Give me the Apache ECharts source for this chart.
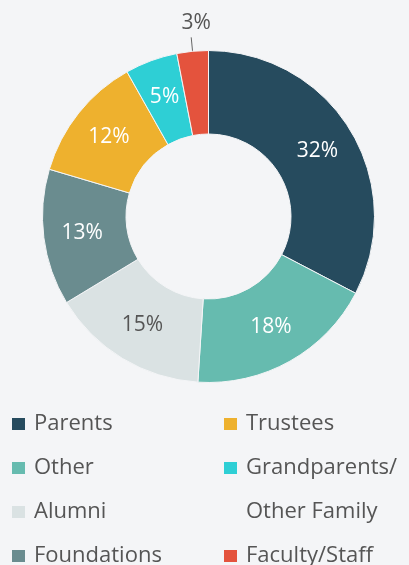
<!DOCTYPE html>
<html>
<head>
<meta charset="utf-8">
<script src="https://cdn.jsdelivr.net/npm/echarts@6/dist/echarts.min.js"></script>
<style>
  html, body { margin: 0; padding: 0; background: #f4f5f7; }
  #chart { width: 409px; height: 565px; }
</style>
</head>
<body>
<div id="chart"></div>
<script>
// Giving sources, share of total (%)
const categories = ['Parents', 'Other', 'Alumni', 'Foundations', 'Trustees', 'Grandparents/\nOther Family', 'Faculty/Staff'];
const shares = [32, 18, 15, 13, 12, 5, 3];
const colors = ['#264b5e', '#66bbaf', '#dae2e3', '#6a8c8f', '#eeb12e', '#2ecfd5', '#e4533d'];
const labelColors = ['#ffffff', '#ffffff', '#555555', '#ffffff', '#ffffff', '#ffffff', '#555555'];
const leftColumn = [0, 1, 2, 3];
const rightColumn = [4, 5, 6];

const FONT = '"Open Sans", sans-serif';
const ROW = 44;
const TOP = 402;

const pieData = categories.map((name, i) => {
  const item = {
    name: name,
    value: shares[i],
    itemStyle: { color: colors[i] },
    label: { color: labelColors[i] }
  };
  if (i === 6) {
    item.label.position = 'outside';
    item.labelLine = { show: true, length: 14, length2: 0, lineStyle: { color: '#666666', width: 1 } };
  }
  return item;
});

const legendText = {
  fontFamily: FONT,
  fontSize: 22,
  color: '#555555',
  lineHeight: ROW,
  padding: [0, 0, 0, 3]
};

const legendBase = {
  orient: 'vertical',
  width: 190,
  height: 400,
  padding: 0,
  itemGap: 0,
  itemWidth: 15,
  itemHeight: 14,
  icon: 'rect',
  selectedMode: false,
  textStyle: legendText,
  // legend text is centred on the swatch; a two-line name gets an empty
  // leading line so its first line sits level with the swatch
  formatter: name => (name.indexOf('\n') >= 0 ? '\n' + name : name)
};

const legends = [Object.assign({}, legendBase, {
  data: leftColumn.map(i => categories[i]),
  left: 10,
  top: TOP
})];

// right column: one legend block per entry, stacked row by row
let row = 0;
rightColumn.forEach(i => {
  const extra = categories[i].split('\n').length - 1;
  legends.push(Object.assign({}, legendBase, {
    data: [categories[i]],
    left: 222,
    top: TOP + (row - extra) * ROW
  }));
  row += extra + 1;
});

const chart = echarts.init(document.getElementById('chart'), null, { renderer: 'canvas' });
chart.setOption({
  backgroundColor: '#f4f5f7',
  animation: false,
  legend: legends,
  series: [{
    type: 'pie',
    center: [208.5, 216.5],
    radius: [82.5, 166],
    startAngle: 90,
    clockwise: true,
    avoidLabelOverlap: false,
    itemStyle: { borderColor: '#f4f5f7', borderWidth: 1 },
    label: {
      show: true,
      position: 'inside',
      formatter: '{c}%',
      fontFamily: FONT,
      fontSize: 21
    },
    labelLine: { show: false },
    labelLayout: function (params) {
      const pts = params.labelLinePoints;
      if (params.dataIndex !== 6 || !pts) return {};
      // place the small-slice label straight above the end of its leader line
      return {
        x: pts[1][0] + 5,
        y: pts[1][1] - 4,
        align: 'center',
        verticalAlign: 'bottom',
        labelLinePoints: [pts[0], pts[1]]
      };
    },
    emphasis: { disabled: true },
    data: pieData
  }]
});
</script>
</body>
</html>
